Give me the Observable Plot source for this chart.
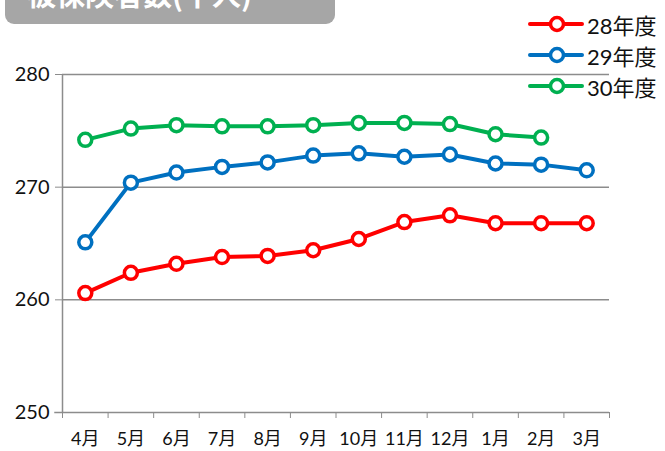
<!DOCTYPE html>
<html><head><meta charset="utf-8">
<script src="https://cdn.jsdelivr.net/npm/d3@7"></script>
<script src="https://cdn.jsdelivr.net/npm/@observablehq/plot@0.6"></script>
<style>
body{margin:0;background:#fff;font-family:Lato,"Noto Sans CJK JP","Noto Sans",sans-serif;}
#wrap{position:relative;width:665px;height:451px;overflow:hidden;}
#title{position:absolute;left:5px;top:-24px;width:330px;height:48px;background:#a6a6a6;border-radius:9px;color:#fff;font-weight:bold;font-size:29px;line-height:1;font-family:"Noto Sans CJK JP",sans-serif;}
#title span{position:absolute;left:22px;top:3px;}
#legend{position:absolute;left:528px;top:8px;font-size:22px;color:#111;}
.row{display:flex;align-items:center;height:31px;}
.row svg{margin-right:3px;}
</style></head>
<body><div id="wrap"><div id="title"><span>被保険者数(千人)</span></div><div id="legend"></div></div>
<script>
const months = ["4月","5月","6月","7月","8月","9月","10月","11月","12月","1月","2月","3月"];
const seriesNames = ["28年度","29年度","30年度"];
const colors = ["#ff0000","#0070c0","#00b050"];
const v28 = [260.6,262.4,263.2,263.8,263.9,264.4,265.4,266.9,267.5,266.8,266.8,266.8];
const v29 = [265.1,270.4,271.3,271.8,272.2,272.8,273.0,272.7,272.9,272.1,272.0,271.5];
const v30 = [274.2,275.2,275.5,275.4,275.4,275.5,275.7,275.7,275.6,274.7,274.4];
const yTicks = [250,260,270,280];

const values = [v28, v29, v30];
const data = values.flatMap((arr, s) => arr.map((v, i) => ({s: seriesNames[s], i, v})));
const boundaries = d3.range(months.length + 1).map(k => k - 0.5);

const chart = Plot.plot({
  width: 665, height: 451,
  marginLeft: 62, marginRight: 56, marginTop: 74, marginBottom: 39,
  style: {fontFamily: 'Lato,"Noto Sans CJK JP","Noto Sans",sans-serif', background: "transparent"},
  x: {type: "linear", domain: [-0.5, months.length - 0.5]},
  y: {domain: [250, 280]},
  color: {domain: seriesNames, range: colors},
  marks: [
    Plot.gridY(yTicks.filter(t => t > 250), {stroke: "#8c8c8c", strokeOpacity: 1, strokeWidth: 1.5}),
    Plot.ruleX([-0.5], {stroke: "#8c8c8c", strokeWidth: 1.5}),
    Plot.ruleY([250], {stroke: "#8c8c8c", strokeWidth: 1.5, x1: -0.67, x2: months.length - 0.5}),
    Plot.axisY({ticks: yTicks, tickSize: 7, stroke: "#8c8c8c", tickPadding: 6, fontSize: 20, fill: "#111", label: null}),
    Plot.axisX({ticks: boundaries, tickSize: 6, stroke: "#8c8c8c", tickFormat: () => "", label: null}),
    Plot.axisX({ticks: d3.range(months.length), tickSize: 0, tickPadding: 20, tickFormat: i => months[i], fontSize: 18, fill: "#111", label: null}),
    Plot.line(data, {x: "i", y: "v", z: "s", stroke: "s", strokeWidth: 4}),
    Plot.dot(data, {x: "i", y: "v", stroke: "s", r: 6.5, strokeWidth: 3.5, fill: "white"})
  ]
});
document.getElementById("wrap").prepend(chart);
chart.style.position = "absolute"; chart.style.left = "0"; chart.style.top = "0";

const leg = document.getElementById("legend");
seriesNames.forEach((n, k) => {
  const row = document.createElement("div");
  row.className = "row";
  row.innerHTML = `<svg width="56" height="20"><line x1="2" x2="54" y1="10" y2="10" stroke="${colors[k]}" stroke-width="4" stroke-linecap="round"/><circle cx="29" cy="10" r="6.5" fill="white" stroke="${colors[k]}" stroke-width="3.5"/></svg><span>${n}</span>`;
  leg.appendChild(row);
});
</script></body></html>
